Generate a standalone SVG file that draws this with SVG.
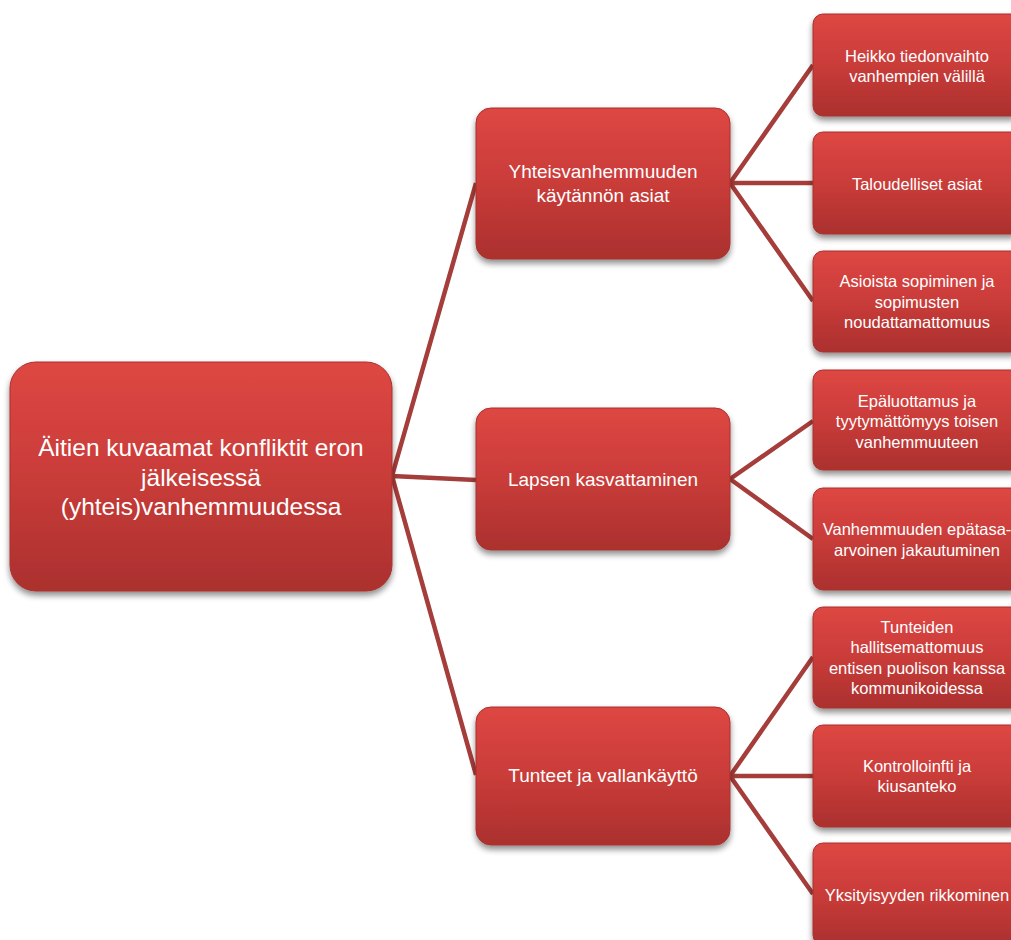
<svg xmlns="http://www.w3.org/2000/svg" width="1011" height="940" viewBox="0 0 1011 940">
<defs>
<linearGradient id="g" x1="0" y1="0" x2="0" y2="1">
<stop offset="0" stop-color="#de4743"/>
<stop offset="0.5" stop-color="#c93c39"/>
<stop offset="1" stop-color="#ab302e"/>
</linearGradient>
<filter id="sh" x="-10%" y="-10%" width="120%" height="130%">
<feGaussianBlur in="SourceAlpha" stdDeviation="3"/>
<feOffset dx="0" dy="4" result="b"/>
<feComponentTransfer><feFuncA type="linear" slope="0.45"/></feComponentTransfer>
<feMerge><feMergeNode/><feMergeNode in="SourceGraphic"/></feMerge>
</filter>
<style>
.n{fill:url(#g);stroke:#a8302e;stroke-width:1;filter:url(#sh)}
.c{stroke:#a53d3a;stroke-width:4.5;fill:none;stroke-linecap:butt}
text{font-family:"Liberation Sans",Arial,sans-serif;fill:#fff;text-anchor:middle}
.t0{font-size:24.5px}
.t1{font-size:19px}
.t2{font-size:16.5px}
</style>
</defs>
<rect width="1011" height="940" fill="#fff"/>
<g id="connectors">
<path class="c" d="M392 476 L476 183 M392 476 L476 480 M392 476 L476 775"/>
<path class="c" d="M730 183 L813 65 M730 183 L813 183 M730 183 L813 301"/>
<path class="c" d="M730 479 L813 421 M730 479 L813 539"/>
<path class="c" d="M730 776 L813 657 M730 776 L813 776 M730 776 L813 894"/>
</g>
<g id="root">
<rect class="n" x="10" y="362" width="382" height="229" rx="26"/>
<text class="t0" x="201" y="456">Äitien kuvaamat konfliktit eron</text>
<text class="t0" x="201" y="485.5">jälkeisessä</text>
<text class="t0" x="201" y="515">(yhteis)vanhemmuudessa</text>
</g>
<g id="mid1">
<rect class="n" x="476" y="108" width="254" height="151" rx="15"/>
<text class="t1" x="603" y="178">Yhteisvanhemmuuden</text>
<text class="t1" x="603" y="202">käytännön asiat</text>
</g>
<g id="mid2">
<rect class="n" x="476" y="408" width="254" height="142" rx="15"/>
<text class="t1" x="603" y="486">Lapsen kasvattaminen</text>
</g>
<g id="mid3">
<rect class="n" x="476" y="707" width="254" height="138" rx="15"/>
<text class="t1" x="603" y="782">Tunteet ja vallankäyttö</text>
</g>
<g id="leaf1">
<rect class="n" x="813" y="14" width="208" height="102" rx="10"/>
<text class="t2" x="917" y="61.5">Heikko tiedonvaihto</text>
<text class="t2" x="917" y="82">vanhempien välillä</text>
</g>
<g id="leaf2">
<rect class="n" x="813" y="132" width="208" height="102" rx="10"/>
<text class="t2" x="917" y="189.5">Taloudelliset asiat</text>
</g>
<g id="leaf3">
<rect class="n" x="813" y="251" width="208" height="101" rx="10"/>
<text class="t2" x="917" y="287">Asioista sopiminen ja</text>
<text class="t2" x="917" y="307.5">sopimusten</text>
<text class="t2" x="917" y="328">noudattamattomuus</text>
</g>
<g id="leaf4">
<rect class="n" x="813" y="370" width="208" height="100" rx="10"/>
<text class="t2" x="917" y="406.5">Epäluottamus ja</text>
<text class="t2" x="917" y="427">tyytymättömyys toisen</text>
<text class="t2" x="917" y="447.5">vanhemmuuteen</text>
</g>
<g id="leaf5">
<rect class="n" x="813" y="488" width="208" height="102" rx="10"/>
<text class="t2" x="917" y="535">Vanhemmuuden epätasa-</text>
<text class="t2" x="917" y="555.5">arvoinen jakautuminen</text>
</g>
<g id="leaf6">
<rect class="n" x="813" y="607" width="208" height="101" rx="10"/>
<text class="t2" x="917" y="632.5">Tunteiden</text>
<text class="t2" x="917" y="653">hallitsemattomuus</text>
<text class="t2" x="917" y="673.5">entisen puolison kanssa</text>
<text class="t2" x="917" y="694">kommunikoidessa</text>
</g>
<g id="leaf7">
<rect class="n" x="813" y="725" width="208" height="102" rx="10"/>
<text class="t2" x="917" y="771.5">Kontrolloinfti ja</text>
<text class="t2" x="917" y="792">kiusanteko</text>
</g>
<g id="leaf8">
<rect class="n" x="813" y="843" width="208" height="102" rx="10"/>
<text class="t2" x="917" y="900.5">Yksityisyyden rikkominen</text>
</g>
</svg>
